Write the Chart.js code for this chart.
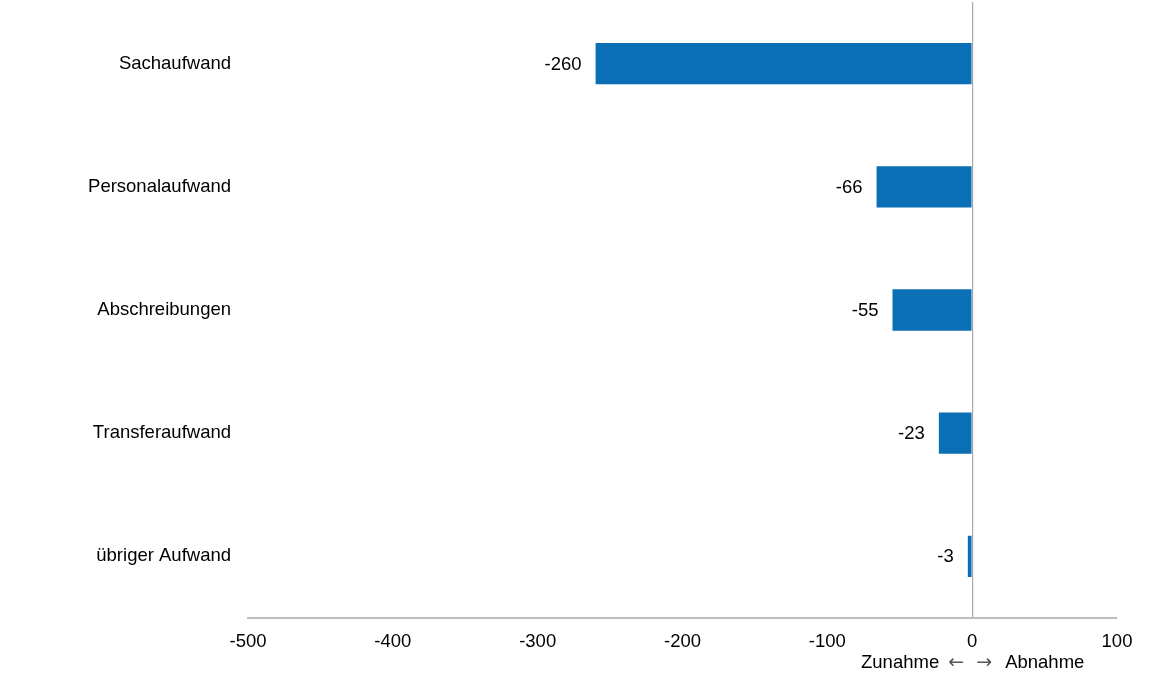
<!DOCTYPE html>
<html>
<head>
<meta charset="utf-8">
<script src="https://cdn.jsdelivr.net/npm/chart.js@4"></script>
<style>
  html, body { margin: 0; padding: 0; background: #fff; }
  #wrap { width: 1152px; height: 690px; }
</style>
</head>
<body>
<div id="wrap"><canvas id="barChart"></canvas></div>
<script>
// categories and values (change vs. prior year)
const categories = ["Sachaufwand", "Personalaufwand", "Abschreibungen", "Transferaufwand", "übriger Aufwand"];
const values = [-260, -66, -55, -23, -3];
const xTicks = [-500, -400, -300, -200, -100, 0, 100];

const FONT = "'Liberation Sans', Arial, Helvetica, sans-serif";

// value labels to the left of each bar end
const valueLabels = {
  id: "valueLabels",
  afterDatasetsDraw(chart) {
    const ctx = chart.ctx;
    const meta = chart.getDatasetMeta(0);
    ctx.save();
    ctx.font = "18.5px " + FONT;
    ctx.fillStyle = "#000";
    ctx.textAlign = "right";
    ctx.textBaseline = "middle";
    meta.data.forEach((bar, i) => {
      ctx.fillText(String(values[i]), bar.x - 14, bar.y + 1);
    });
    ctx.restore();
  }
};

// "Zunahme ← → Abnahme" centred under zero
const axisNote = {
  id: "axisNote",
  afterDraw(chart) {
    const ctx = chart.ctx;
    const x0 = chart.scales.x.getPixelForValue(0);
    const y = 663;
    ctx.save();
    ctx.font = "18.5px " + FONT;
    ctx.textBaseline = "middle";
    ctx.fillStyle = "#000";
    ctx.textAlign = "right";
    ctx.fillText("Zunahme", x0 - 33, y);
    ctx.textAlign = "left";
    ctx.fillText("Abnahme", x0 + 33, y);
    ctx.font = "19px 'DejaVu Sans', sans-serif";
    ctx.fillStyle = "#555";
    ctx.textAlign = "center";
    ctx.fillText("\u2190", x0 - 16, y);
    ctx.fillText("\u2192", x0 + 12, y);
    ctx.restore();
  }
};

new Chart(document.getElementById("barChart").getContext("2d"), {
  type: "bar",
  data: {
    labels: categories,
    datasets: [{
      data: values,
      backgroundColor: "#0b6fb5",
      borderWidth: 0,
      barPercentage: 1,
      categoryPercentage: 0.335
    }]
  },
  options: {
    indexAxis: "y",
    responsive: true,
    maintainAspectRatio: false,
    animation: false,
    layout: { padding: { top: 2, right: 35, left: 0, bottom: 0 } },
    plugins: { legend: { display: false }, tooltip: { enabled: false } },
    scales: {
      x: {
        min: -500,
        max: 100,
        afterBuildTicks(scale) { scale.ticks = xTicks.map(v => ({ value: v })); },
        afterFit(scale) { scale.height = 72; },
        grid: {
          drawTicks: false,
          color: c => (c.tick && c.tick.value === 0) ? "#a8a8a8" : "rgba(0,0,0,0)",
          lineWidth: 1.2
        },
        border: { display: true, color: "#bdbdbd", width: 2 },
        ticks: {
          padding: 13,
          color: "#000",
          font: { family: FONT, size: 18.5 }
        }
      },
      y: {
        afterFit(scale) {
          scale.width = 248;
          scale.paddingTop = 0;
          scale.paddingBottom = 0;
        },
        grid: { display: false, drawTicks: false },
        border: { display: false },
        ticks: {
          padding: 17,
          color: "#000",
          font: { family: FONT, size: 18.5 }
        }
      }
    }
  },
  plugins: [valueLabels, axisNote]
});
</script>
</body>
</html>
